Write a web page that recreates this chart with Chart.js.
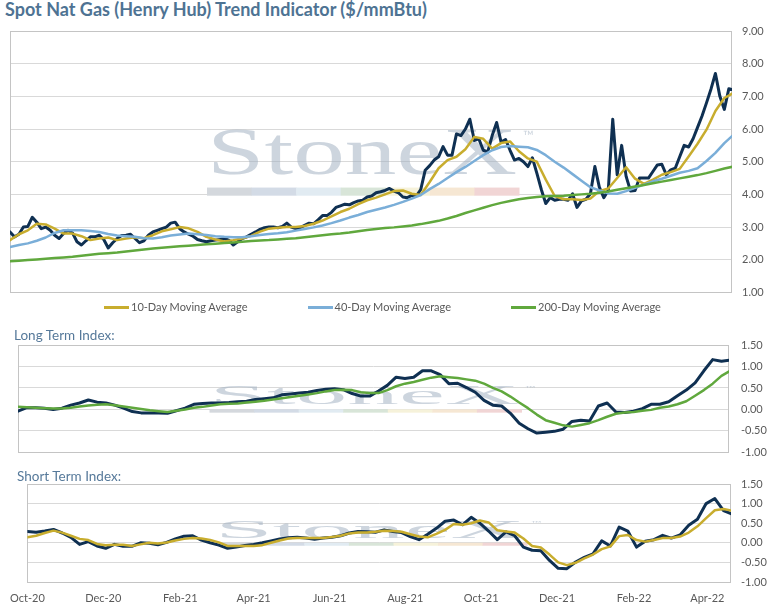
<!DOCTYPE html>
<html>
<head>
<meta charset="utf-8">
<title>Spot Nat Gas (Henry Hub) Trend Indicator</title>
<script src="https://cdn.jsdelivr.net/npm/chart.js@4.4.1/dist/chart.umd.min.js"></script>
<style>
    body { margin: 0; background: #fff; font-family: Lato, "Open Sans", sans-serif; }
    #page { position: relative; width: 780px; height: 607px; overflow: hidden; }
    .panel { position: absolute; left: 0; width: 780px; }
    .heading { position: absolute; white-space: nowrap; line-height: 1.2; }
    #mainTitle { left: 5px; top: -1px; font-size: 18px; font-weight: bold; color: #4e7393; }
    #longTitle { left: 14px; top: 327px; font-size: 13.5px; color: #56799a; }
    #shortTitle { left: 17px; top: 468px; font-size: 13.5px; color: #56799a; }
    #legend { position: absolute; left: 104px; top: 300px; display: flex; font-size: 11px; line-height: 1.2; color: #595959; }
    #legend .item { width: 203.5px; display: flex; align-items: center; white-space: nowrap; }
    #legend .swatch { width: 25px; height: 3px; margin-right: 2px; position: relative; top: 1px; }
</style>
</head>
<body>
<div id="page">
    <div class="heading" id="mainTitle">Spot Nat Gas (Henry Hub) Trend Indicator ($/mmBtu)</div>
    <div class="panel" style="top:0;height:309px"><canvas id="priceChart"></canvas></div>
    <div id="legend"></div>
    <div class="panel" style="top:322px;height:149px"><canvas id="longChart"></canvas></div>
    <div class="heading" id="longTitle">Long Term Index:</div>
    <div class="heading" id="shortTitle">Short Term Index:</div>
    <div class="panel" style="top:460px;height:147px"><canvas id="shortChart"></canvas></div>
</div>
<script>
// ========= DATA =========
// x axis in days since 1 Oct 2020, ticks every two months
const tickLabels = ['Oct-20', 'Dec-20', 'Feb-21', 'Apr-21', 'Jun-21', 'Aug-21', 'Oct-21', 'Dec-21', 'Feb-22', 'Apr-22'];
const tickDays = [0, 61, 123, 182, 243, 304, 365, 426, 488, 547];
const END_DAY = 566;

const SPOT_STEP = 3.5;
const WEEK_STEP = 7;

const spotPrice = [
    2.85, 2.70, 2.78, 3.00, 3.02, 3.30, 3.15, 2.95, 3.00, 2.90,
    2.75, 2.65, 2.80, 2.90, 2.82, 2.55, 2.45, 2.58, 2.70, 2.70,
    2.75, 2.62, 2.36, 2.52, 2.65, 2.74, 2.75, 2.78, 2.65, 2.52,
    2.58, 2.75, 2.85, 2.90, 2.95, 3.00, 3.12, 3.15, 2.95, 2.85,
    2.78, 2.72, 2.62, 2.58, 2.55, 2.58, 2.60, 2.62, 2.65, 2.60,
    2.45, 2.55, 2.65, 2.70, 2.78, 2.85, 2.93, 2.98, 3.00, 3.00,
    2.98, 3.02, 3.12, 3.00, 2.95, 2.98, 3.05, 3.12, 3.10, 3.22,
    3.35, 3.35, 3.45, 3.60, 3.65, 3.70, 3.68, 3.75, 3.80, 3.82,
    3.92, 3.95, 4.05, 4.08, 4.12, 4.18, 4.10, 4.05, 3.92, 3.90,
    3.97, 3.95, 4.15, 4.74, 4.88, 5.05, 5.15, 5.46, 5.20, 5.20,
    5.85, 5.80, 6.00, 6.30, 5.65, 5.70, 5.35, 5.30, 5.80, 6.20,
    5.60, 5.68, 5.35, 5.05, 5.10, 5.00, 4.85, 5.12, 4.65, 4.15,
    3.72, 3.90, 3.82, 3.85, 3.85, 3.82, 4.02, 3.60, 3.80, 3.85,
    4.02, 4.85, 4.22, 3.90, 4.12, 6.30, 4.60, 5.50, 4.55, 4.10,
    4.12, 4.50, 4.50, 4.50, 4.70, 4.90, 4.92, 4.60, 4.75, 4.80,
    5.15, 5.50, 5.45, 5.70, 6.05, 6.40, 6.80, 7.22, 7.70, 7.00,
    6.60, 7.23, 7.20
];
const ma10 = [
    2.60, 2.78, 2.90, 3.10, 3.08, 2.95, 2.80, 2.80, 2.72, 2.60,
    2.65, 2.68, 2.60, 2.65, 2.69, 2.66, 2.75, 2.87, 2.93, 3.00,
    2.96, 2.85, 2.70, 2.62, 2.56, 2.60, 2.65, 2.73, 2.86, 2.95,
    2.98, 3.00, 3.00, 3.03, 3.10, 3.20, 3.33, 3.46, 3.56, 3.70,
    3.82, 3.90, 4.00, 4.10, 4.12, 4.02, 3.98, 4.38, 4.80, 5.05,
    5.15, 5.38, 5.76, 5.70, 5.40, 5.57, 5.62, 5.32, 5.10, 5.00,
    4.45, 3.95, 3.85, 3.85, 3.83, 3.87, 4.10, 4.18, 4.50, 4.83,
    4.48, 4.32, 4.45, 4.60, 4.68, 4.78, 5.16, 5.55, 5.98, 6.55,
    6.95, 7.10
];
const ma40 = [
    2.39, 2.45, 2.50, 2.58, 2.68, 2.82, 2.90, 2.90, 2.90, 2.88,
    2.85, 2.79, 2.74, 2.72, 2.70, 2.66, 2.65, 2.69, 2.74, 2.77,
    2.80, 2.78, 2.76, 2.72, 2.70, 2.69, 2.69, 2.72, 2.76, 2.79,
    2.81, 2.84, 2.89, 2.94, 2.99, 3.05, 3.12, 3.20, 3.29, 3.37,
    3.46, 3.53, 3.60, 3.68, 3.77, 3.87, 3.98, 4.16, 4.32, 4.50,
    4.68, 4.84, 5.02, 5.20, 5.35, 5.45, 5.48, 5.46, 5.44, 5.36,
    5.20, 5.00, 4.82, 4.62, 4.42, 4.22, 4.12, 4.03, 4.02, 4.10,
    4.20, 4.30, 4.40, 4.48, 4.57, 4.66, 4.72, 4.80, 5.02, 5.27,
    5.57, 5.82
];
const ma200 = [
    1.95, 1.97, 1.99, 2.01, 2.03, 2.05, 2.07, 2.09, 2.12, 2.15,
    2.18, 2.20, 2.22, 2.25, 2.28, 2.31, 2.34, 2.37, 2.39, 2.41,
    2.43, 2.45, 2.47, 2.49, 2.51, 2.53, 2.55, 2.57, 2.59, 2.60,
    2.62, 2.64, 2.66, 2.69, 2.72, 2.75, 2.78, 2.80, 2.83, 2.87,
    2.91, 2.94, 2.97, 2.99, 3.02, 3.05, 3.09, 3.14, 3.19, 3.26,
    3.34, 3.43, 3.51, 3.59, 3.67, 3.74, 3.80, 3.85, 3.89, 3.92,
    3.94, 3.95, 3.96, 3.98, 4.00, 4.02, 4.05, 4.09, 4.14, 4.19,
    4.24, 4.29, 4.34, 4.39, 4.44, 4.49, 4.54, 4.59, 4.65, 4.72,
    4.79, 4.85
];
const longIndex = [
    -0.04, 0.04, 0.04, 0.03, 0.00, 0.03, 0.10, 0.15, 0.22, 0.17,
    0.15, 0.10, 0.03, -0.05, -0.08, -0.08, -0.08, -0.09, -0.03, 0.03,
    0.12, 0.14, 0.15, 0.15, 0.16, 0.18, 0.19, 0.23, 0.25, 0.27,
    0.34, 0.36, 0.38, 0.40, 0.44, 0.47, 0.48, 0.46, 0.37, 0.31,
    0.31, 0.43, 0.56, 0.75, 0.72, 0.75, 0.90, 0.90, 0.81, 0.60,
    0.61, 0.51, 0.40, 0.21, 0.10, 0.08, -0.09, -0.32, -0.45, -0.55,
    -0.53, -0.51, -0.46, -0.28, -0.25, -0.27, 0.08, 0.15, -0.06, -0.07,
    -0.04, 0.02, 0.12, 0.12, 0.18, 0.32, 0.45, 0.62, 0.90, 1.16,
    1.12, 1.15
];
const longSignal = [
    0.06, 0.05, 0.04, 0.03, 0.02, 0.02, 0.04, 0.07, 0.09, 0.11,
    0.12, 0.10, 0.07, 0.04, 0.01, -0.02, -0.04, -0.06, -0.03, 0.00,
    0.04, 0.06, 0.09, 0.12, 0.13, 0.14, 0.16, 0.18, 0.20, 0.23,
    0.26, 0.29, 0.32, 0.35, 0.38, 0.42, 0.45, 0.46, 0.45, 0.40,
    0.38, 0.38, 0.45, 0.54, 0.60, 0.64, 0.69, 0.74, 0.77, 0.75,
    0.73, 0.70, 0.67, 0.60, 0.50, 0.42, 0.30, 0.16, 0.03, -0.12,
    -0.25, -0.31, -0.37, -0.40, -0.36, -0.32, -0.25, -0.17, -0.10, -0.07,
    -0.06, -0.03, -0.01, 0.04, 0.07, 0.12, 0.19, 0.32, 0.45, 0.60,
    0.78, 0.90
];
const shortIndex = [
    0.29, 0.27, 0.30, 0.34, 0.25, 0.14, -0.04, 0.03, -0.08, -0.14,
    -0.04, -0.09, -0.09, 0.00, -0.01, -0.05, 0.01, 0.10, 0.17, 0.18,
    0.07, 0.00, -0.06, -0.14, -0.11, -0.07, -0.04, 0.00, 0.05, 0.10,
    0.13, 0.14, 0.12, 0.09, 0.12, 0.14, 0.18, 0.25, 0.29, 0.28,
    0.27, 0.33, 0.29, 0.26, 0.16, 0.08, 0.22, 0.37, 0.55, 0.58,
    0.46, 0.65, 0.50, 0.30, 0.08, 0.28, 0.18, -0.11, -0.19, -0.20,
    -0.45, -0.65, -0.66, -0.49, -0.37, -0.28, 0.05, -0.08, 0.40, 0.30,
    -0.11, 0.04, 0.08, 0.19, 0.12, 0.20, 0.45, 0.60, 1.00, 1.13,
    0.82, 0.73
];
const shortSignal = [
    0.14, 0.18, 0.25, 0.31, 0.26, 0.18, 0.10, 0.07, -0.03, -0.06,
    -0.05, -0.05, -0.08, -0.04, 0.00, -0.02, 0.01, 0.06, 0.10, 0.12,
    0.11, 0.07, 0.01, -0.08, -0.08, -0.08, -0.08, -0.06, 0.00, 0.06,
    0.11, 0.12, 0.12, 0.12, 0.12, 0.15, 0.18, 0.24, 0.26, 0.26,
    0.28, 0.31, 0.30, 0.28, 0.22, 0.16, 0.14, 0.23, 0.33, 0.48,
    0.46, 0.50, 0.57, 0.52, 0.32, 0.29, 0.26, 0.11, -0.08, -0.12,
    -0.30, -0.50, -0.57, -0.51, -0.40, -0.30, -0.16, -0.09, 0.17, 0.20,
    0.07, 0.03, 0.07, 0.12, 0.12, 0.16, 0.26, 0.42, 0.63, 0.83,
    0.86, 0.82
];

// ========= STYLE =========
const NAVY = '#0f3052';
const GOLD = '#c8ad2e';
const BLUE = '#7aaed8';
const GREEN = '#60a83d';
const TEXT = '#595959';
const watermarkBar = ['#d4d8dd', '#d3dbe6', '#e1ebf2', '#d8e5d8', '#f6f2da', '#f6e7d3', '#f1d5d5'];

Chart.defaults.font.family = 'Lato, "Open Sans", sans-serif';
Chart.defaults.font.size = 11;
Chart.defaults.color = TEXT;

const toPoints = (values, step) => values.map((y, i) => ({ x: i * step, y }));

function line(label, values, step, color, width, order) {
    return {
        label,
        data: toPoints(values, step),
        borderColor: color,
        backgroundColor: color,
        borderWidth: width,
        order,
        fill: false
    };
}

// faded StoneX logo behind the lines
const watermark = {
    id: 'watermark',
    beforeDatasetsDraw(chart) {
        const { ctx, chartArea: a } = chart;
        const w = 312;
        const h = a.height * 0.26;
        ctx.save();
        ctx.translate((a.left + a.right) / 2 - w / 2 - 8, (a.top + a.bottom) / 2 - h / 2);
        ctx.scale(1, h / 67);
        ctx.font = '66px "Liberation Serif", "DejaVu Serif", serif';
        ctx.textBaseline = 'alphabetic';
        ctx.fillStyle = 'rgba(160,174,191,0.52)';
        const tw = ctx.measureText('StoneX').width;
        ctx.save();
        ctx.scale(310 / tw, 1);
        ctx.fillText('StoneX', 0, 46);
        ctx.restore();
        ctx.font = '14px Lato, sans-serif';
        ctx.textBaseline = 'top';
        ctx.fillText('\u2122', 316, 2);
        watermarkBar.forEach((c, i) => {
            ctx.fillStyle = c;
            ctx.fillRect(i * w / 7, 59, w / 7 + 0.5, 8);
        });
        ctx.restore();
    }
};

// thin frame round the plot area
const plotBorder = {
    id: 'plotBorder',
    beforeDatasetsDraw(chart) {
        const { ctx, chartArea: a } = chart;
        ctx.save();
        ctx.strokeStyle = '#c4c4c4';
        ctx.lineWidth = 1;
        ctx.strokeRect(Math.round(a.left) + 0.5, Math.round(a.top) + 0.5,
            Math.round(a.right - a.left) - 1, Math.round(a.bottom - a.top));
        ctx.restore();
    }
};

// ========= SHARED OPTIONS =========
function panelOptions({ yMin, yMax, yStep, yWidth, padding, labelPad, showX }) {
    return {
        responsive: true,
        maintainAspectRatio: false,
        animation: false,
        layout: { padding },
        elements: {
            point: { radius: 0, hoverRadius: 0 },
            line: { tension: 0, borderJoinStyle: 'round', borderCapStyle: 'round' }
        },
        plugins: {
            legend: { display: false },
            tooltip: {
                mode: 'nearest',
                intersect: false,
                callbacks: {
                    title: ctx => ctx[0].dataset.label,
                    label: ctx => ctx.parsed.y.toFixed(2)
                }
            }
        },
        scales: {
            x: {
                type: 'linear',
                min: 0,
                max: END_DAY,
                display: showX,
                grid: { display: false, drawTicks: false },
                border: { display: false },
                afterBuildTicks: axis => {
                    axis.ticks = tickDays.map(value => ({ value }));
                },
                afterFit: axis => { axis.height = showX ? 25 : 0; },
                ticks: {
                    autoSkip: false,
                    maxRotation: 0,
                    padding: 10,
                    callback: (value, i) => tickLabels[i]
                }
            },
            y: {
                position: 'right',
                min: yMin,
                max: yMax,
                grid: { color: '#d9d9d9', drawTicks: false },
                border: { display: false },
                afterFit: axis => { axis.width = yWidth; },
                ticks: {
                    stepSize: yStep,
                    padding: labelPad,
                    callback: value => value.toFixed(2)
                }
            }
        }
    };
}

// ========= PRICE CHART =========
const priceChart = new Chart(document.getElementById('priceChart'), {
    type: 'line',
    data: {
        datasets: [
            line('Henry Hub Spot', spotPrice, SPOT_STEP, NAVY, 3, 4),
            line('10-Day Moving Average', ma10, WEEK_STEP, GOLD, 2.5, 3),
            line('40-Day Moving Average', ma40, WEEK_STEP, BLUE, 2.5, 2),
            line('200-Day Moving Average', ma200, WEEK_STEP, GREEN, 2.5, 1)
        ]
    },
    options: panelOptions({
        yMin: 1, yMax: 9, yStep: 1, yWidth: 48, labelPad: 10, showX: false,
        padding: { left: 10, right: 0, top: 31, bottom: 0 }
    }),
    plugins: [watermark, plotBorder]
});

// legend under the price chart, built from the chart's own datasets
const legendBox = document.getElementById('legend');
priceChart.data.datasets
    .filter(ds => ds.label.includes('Moving Average'))
    .forEach(ds => {
        const item = document.createElement('span');
        item.className = 'item';
        const swatch = document.createElement('span');
        swatch.className = 'swatch';
        swatch.style.background = ds.borderColor;
        item.appendChild(swatch);
        item.appendChild(document.createTextNode(ds.label));
        legendBox.appendChild(item);
    });

// ========= LONG TERM INDEX =========
new Chart(document.getElementById('longChart'), {
    type: 'line',
    data: {
        datasets: [
            line('Long Term Index', longIndex, WEEK_STEP, NAVY, 3, 2),
            line('Long Term Signal', longSignal, WEEK_STEP, GREEN, 2.5, 1)
        ]
    },
    options: panelOptions({
        yMin: -1, yMax: 1.5, yStep: 0.5, yWidth: 51, labelPad: 12, showX: false,
        padding: { left: 18, right: 0, top: 23, bottom: 0 }
    }),
    plugins: [watermark, plotBorder]
});

// ========= SHORT TERM INDEX =========
new Chart(document.getElementById('shortChart'), {
    type: 'line',
    data: {
        datasets: [
            line('Short Term Index', shortIndex, WEEK_STEP, NAVY, 3, 2),
            line('Short Term Signal', shortSignal, WEEK_STEP, GOLD, 2.5, 1)
        ]
    },
    options: panelOptions({
        yMin: -1, yMax: 1.5, yStep: 0.5, yWidth: 49, labelPad: 10, showX: true,
        padding: { left: 20, right: 0, top: 24, bottom: 0 }
    }),
    plugins: [watermark, plotBorder]
});
</script>
</body>
</html>
